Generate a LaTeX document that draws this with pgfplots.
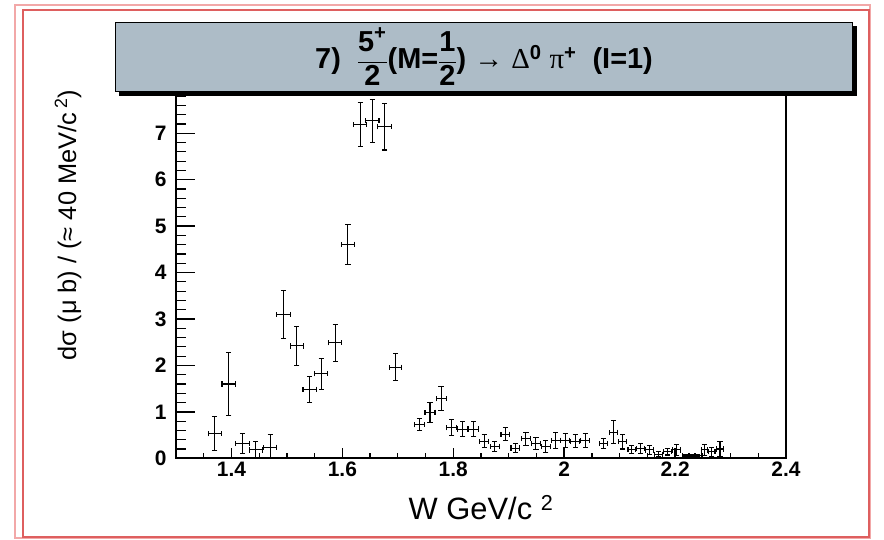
\documentclass[border=0pt]{standalone}
\usepackage{pgfplots}
\pgfplotsset{compat=1.18}
\usepackage{pgfplotstable}
\usepackage{amsmath}
\usepackage{fontspec}
\setmainfont{Liberation Sans}
\newfontfamily\serifgreek{Liberation Serif}
\definecolor{paveblue}{RGB}{173,188,199}
\definecolor{borderred}{RGB}{222,95,95}
\definecolor{borderpink}{RGB}{242,168,168}

\pgfplotstableread{
x y ex ey
1.370 0.53 0.012 0.37
1.395 1.60 0.012 0.68
1.420 0.32 0.012 0.22
1.444 0.18 0.012 0.18
1.470 0.24 0.012 0.27
1.494 3.10 0.012 0.52
1.518 2.42 0.012 0.42
1.541 1.49 0.012 0.28
1.562 1.82 0.012 0.33
1.587 2.49 0.012 0.40
1.610 4.61 0.012 0.43
1.632 7.19 0.012 0.48
1.654 7.27 0.012 0.46
1.676 7.14 0.012 0.50
1.696 1.96 0.011 0.29
1.739 0.72 0.009 0.13
1.758 0.99 0.009 0.21
1.778 1.28 0.009 0.26
1.797 0.66 0.009 0.17
1.817 0.63 0.009 0.17
1.837 0.63 0.009 0.17
1.856 0.37 0.008 0.14
1.875 0.26 0.008 0.11
1.894 0.52 0.008 0.14
1.912 0.22 0.008 0.09
1.931 0.42 0.008 0.14
1.949 0.32 0.008 0.13
1.967 0.25 0.008 0.13
1.985 0.39 0.008 0.17
2.002 0.39 0.008 0.15
2.020 0.37 0.008 0.14
2.038 0.38 0.008 0.15
2.071 0.32 0.007 0.10
2.089 0.56 0.007 0.25
2.105 0.36 0.007 0.16
2.122 0.19 0.007 0.08
2.138 0.21 0.007 0.11
2.154 0.18 0.007 0.10
2.170 0.09 0.007 0.06
2.186 0.14 0.007 0.07
2.203 0.18 0.007 0.12
2.219 0.06 0.006 0.03
2.230 0.05 0.006 0.03
2.241 0.06 0.006 0.03
2.253 0.18 0.006 0.12
2.266 0.14 0.006 0.10
2.281 0.20 0.006 0.16
}\datatable

\begin{document}
\begin{tikzpicture}
\useasboundingbox (0bp,0bp) rectangle (884bp,540bp);
\fill[white] (0bp,0bp) rectangle (884bp,540bp);
% page border
\draw[borderpink, line width=1.3bp] (15bp,2bp) rectangle (870bp,535bp);
\draw[borderred, line width=1.3bp] (23bp,3bp) rectangle (869bp,530bp);

\begin{axis}[at={(176bp,81.7bp)}, anchor=south west, scale only axis,
  width=610bp, height=380.7bp,
  xmin=1.3, xmax=2.4, ymin=0, ymax=8.2,
  axis line style={black, line width=1.3bp},
  ytick={0,1,...,7},
  xtick={1.4,1.6,1.8,2.0,2.2,2.4},
  xticklabels={1.4,1.6,1.8,2,2.2,2.4},
  tick pos=left, tick align=inside,
  tick style={draw=none},
  xticklabel style={font=\fontsize{21}{21}\selectfont\bfseries},
  yticklabel style={font=\fontsize{21}{21}\selectfont\bfseries, xshift=-6bp},
  /pgf/number format/assume math mode=true,
  xlabel={W GeV/c\;\textsuperscript{2}},
  xlabel style={at={(axis description cs:0.5,-0.129)}, anchor=center,
    font=\fontsize{31}{31}\selectfont},
  ylabel={dσ (μ b) / (≈ 40 MeV/c\,\textsuperscript{2})},
  ylabel style={at={(axis description cs:-0.177,0.613)}, anchor=center,
    font=\fontsize{25.5}{25.5}\selectfont},
]
\addplot[mark=none, draw=none,
  error bars/.cd, x dir=both, y dir=both, x explicit, y explicit,
  error bar style={draw=black, line width=1.1bp},
  error mark=|,
  error mark options={draw=black, mark size=2.6bp, line width=1.1bp}]
  table[x=x, y=y, x error=ex, y error=ey] {\datatable};
\draw[line width=3bp] (rel axis cs:0,0) -- (rel axis cs:1,0);
\end{axis}

% inside tick marks (absolute positions of the axis values)
\draw[black, line width=1.4bp]
  (231.45bp,81.7bp) -- (231.45bp,92bp)
  (342.36bp,81.7bp) -- (342.36bp,92bp)
  (453.27bp,81.7bp) -- (453.27bp,92bp)
  (564.18bp,81.7bp) -- (564.18bp,92bp)
  (675.09bp,81.7bp) -- (675.09bp,92bp)
  (786bp,81.7bp) -- (786bp,92bp);
\draw[black, line width=1.2bp]
  (203.73bp,81.7bp) -- (203.73bp,87bp)
  (259.18bp,81.7bp) -- (259.18bp,87bp)
  (286.91bp,81.7bp) -- (286.91bp,87bp)
  (314.64bp,81.7bp) -- (314.64bp,87bp)
  (370.09bp,81.7bp) -- (370.09bp,87bp)
  (397.82bp,81.7bp) -- (397.82bp,87bp)
  (425.55bp,81.7bp) -- (425.55bp,87bp)
  (481.00bp,81.7bp) -- (481.00bp,87bp)
  (508.73bp,81.7bp) -- (508.73bp,87bp)
  (536.45bp,81.7bp) -- (536.45bp,87bp)
  (591.91bp,81.7bp) -- (591.91bp,87bp)
  (619.64bp,81.7bp) -- (619.64bp,87bp)
  (647.36bp,81.7bp) -- (647.36bp,87bp)
  (702.82bp,81.7bp) -- (702.82bp,87bp)
  (730.55bp,81.7bp) -- (730.55bp,87bp)
  (758.27bp,81.7bp) -- (758.27bp,87bp);
\draw[black, line width=1.4bp]
  (176bp,128.13bp) -- (195bp,128.13bp)
  (176bp,174.55bp) -- (195bp,174.55bp)
  (176bp,220.98bp) -- (195bp,220.98bp)
  (176bp,267.41bp) -- (195bp,267.41bp)
  (176bp,313.84bp) -- (195bp,313.84bp)
  (176bp,360.26bp) -- (195bp,360.26bp)
  (176bp,406.69bp) -- (195bp,406.69bp)
  (176bp,453.12bp) -- (195bp,453.12bp);
\foreach \k in {1,...,39}{
  \draw[black, line width=1.2bp] (176bp,81.7bp+\k*9.2854bp) -- (186bp,81.7bp+\k*9.2854bp);
}

% title pave with shadow
\fill[black] (119bp,444bp) rectangle (857bp,514bp);
\filldraw[fill=paveblue, draw=black, line width=0.8bp] (115bp,449bp) rectangle (852bp,518bp);
\node[font=\fontsize{29}{29}\selectfont\bfseries] at (484bp,483bp)
  {7)~~$\dfrac{\text{5}^{\text{+}}}{\text{2}}$(M=$\dfrac{\text{1}}{\text{2}}$)~{\mdseries\serifgreek →}~{\mdseries\serifgreek Δ}$^{\text{0}}$~{\mdseries\serifgreek π}$^{\text{+}}$~~(I=1)};
\end{tikzpicture}
\end{document}
